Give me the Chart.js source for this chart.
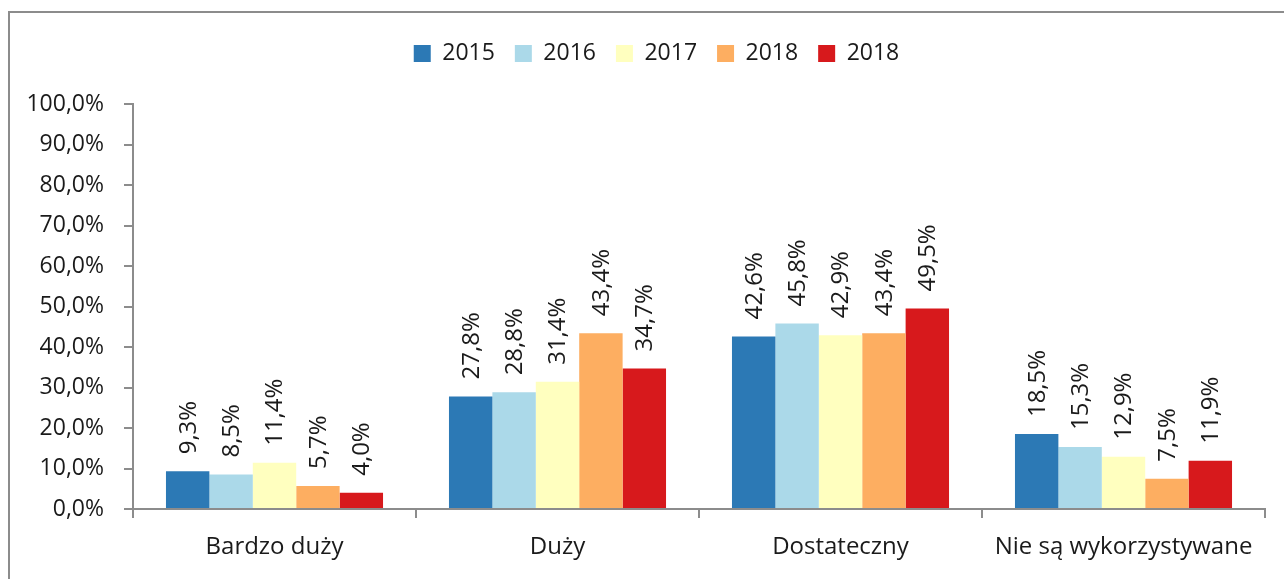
<!DOCTYPE html>
<html>
<head>
<meta charset="utf-8">
<script src="https://cdn.jsdelivr.net/npm/chart.js@4"></script>
<style>
  html, body { margin: 0; padding: 0; background: #fff; overflow: hidden; }
  .frame { position: absolute; left: 8px; top: 11px; width: 1300px; height: 600px; border: 2px solid #8c8c8c; box-sizing: border-box; }
  .box { position: absolute; left: 0; top: 0; width: 1284px; height: 579px; }
</style>
</head>
<body>
<div class="frame"></div>
<div class="box">
  <canvas id="chart"></canvas>
</div>
<script>
const FONT = "'Open Sans', sans-serif";

const data = {
  labels: ["Bardzo duży", "Duży", "Dostateczny", "Nie są wykorzystywane"],
  datasets: [
    { label: "2015", data: [9.3, 27.8, 42.6, 18.5], backgroundColor: "#2c79b5" },
    { label: "2016", data: [8.5, 28.8, 45.8, 15.3], backgroundColor: "#abd9e9" },
    { label: "2017", data: [11.4, 31.4, 42.9, 12.9], backgroundColor: "#ffffbf" },
    { label: "2018", data: [5.7, 43.4, 43.4, 7.5], backgroundColor: "#fdae61" },
    { label: "2018", data: [4.0, 34.7, 49.5, 11.9], backgroundColor: "#d7191c" },
  ],
};

const fmt = (v) => v.toFixed(1).replace(".", ",") + "%";

// values written above each bar, rotated
const barLabels = {
  id: "barLabels",
  afterDatasetsDraw(chart) {
    const ctx = chart.ctx;
    ctx.save();
    ctx.font = "24px " + FONT;
    ctx.fillStyle = "#1a1a1a";
    ctx.textAlign = "left";
    ctx.textBaseline = "middle";
    chart.data.datasets.forEach((ds, i) => {
      chart.getDatasetMeta(i).data.forEach((bar, j) => {
        ctx.save();
        ctx.translate(bar.x + 1, bar.y - 17);
        ctx.rotate(-Math.PI / 2);
        ctx.fillText(fmt(ds.data[j]), 0, 0);
        ctx.restore();
      });
    });
    ctx.restore();
  },
};

// legend takes fixed room so the plot starts at the right height,
// and sits a bit right of the canvas centre like the original
const legendPlace = {
  id: "legendPlace",
  beforeInit(chart) {
    const fit = chart.legend.fit;
    chart.legend.fit = function () {
      fit.bind(chart.legend)();
      this.height = 82;
    };
  },
  afterLayout(chart) {
    chart.legend.left += 24;
    chart.legend.right += 24;
  },
};

const config = {
  type: "bar",
  data,
  options: {
    responsive: true,
    maintainAspectRatio: false,
    animation: false,
    layout: { padding: { top: 22, left: 0, right: 19, bottom: 0 } },
    datasets: {
      bar: { barPercentage: 1, categoryPercentage: 0.767, borderWidth: 0 },
    },
    scales: {
      x: {
        grid: { offset: true, drawOnChartArea: false, drawTicks: true, tickLength: 9, color: "#8c8c8c", lineWidth: 2 },
        border: { color: "#8c8c8c", width: 2 },
        ticks: { color: "#1a1a1a", font: { family: FONT, size: 24 }, padding: 15 },
        afterFit(scale) { scale.height = 70; },
      },
      y: {
        min: 0,
        max: 100,
        grid: { drawOnChartArea: false, drawTicks: true, tickLength: 9, color: "#8c8c8c", lineWidth: 2 },
        border: { color: "#8c8c8c", width: 2 },
        ticks: {
          stepSize: 10,
          color: "#1a1a1a",
          font: { family: FONT, size: 23 },
          padding: 20,
          callback: (v) => fmt(v),
        },
        afterFit(scale) { scale.width = 133; },
      },
    },
    plugins: {
      tooltip: { enabled: false },
      legend: {
        position: "top",
        align: "center",
        labels: {
          boxWidth: 17,
          boxHeight: 17,
          padding: 20,
          color: "#1a1a1a",
          font: { family: FONT, size: 23 },
        },
      },
    },
  },
  plugins: [barLabels, legendPlace],
};

new Chart(document.getElementById("chart").getContext("2d"), config);
</script>
</body>
</html>
